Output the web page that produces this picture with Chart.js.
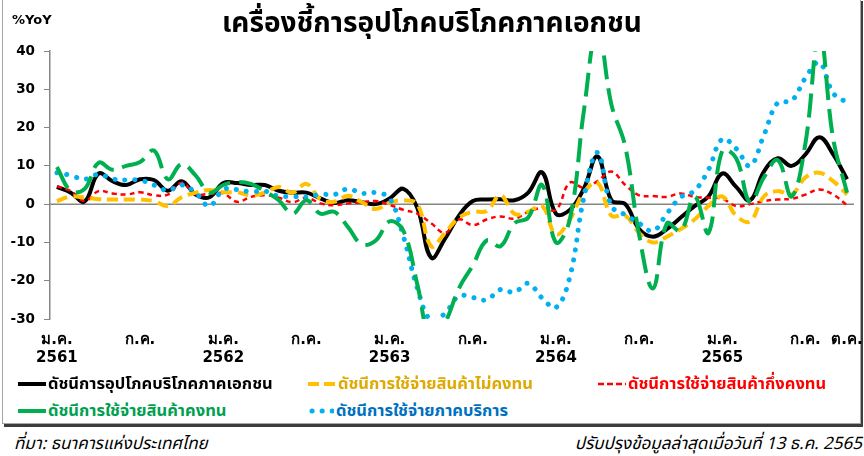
<!DOCTYPE html>
<html lang="th">
<head>
<meta charset="utf-8">
<script src="https://cdn.jsdelivr.net/npm/chart.js@4.4.1/dist/chart.umd.min.js"></script>
<style>
  body { margin: 0; width: 864px; height: 456px; background: #fff; position: relative; overflow: hidden;
         font-family: Tahoma, "Noto Sans Thai", "DejaVu Sans", sans-serif; }
  #frame { position: absolute; left: 2px; top: -2px; width: 857px; height: 424px; border: 1px solid #a6a6a6;
           box-shadow: 2px 3px 0 #3c3c3c; }
  #chartBox { position: absolute; left: 0; top: 0; width: 864px; height: 380px; }
  #title { position: absolute; left: 0; width: 864px; top: 2px; text-align: center; font-weight: bold; font-size: 28px; }
  #unit { position: absolute; left: 12px; top: 12px; font-weight: bold; font-size: 13px; font-family: "DejaVu Sans", sans-serif; }
  .leg { position: absolute; font-weight: bold; font-size: 16.5px; white-space: nowrap; display: flex; align-items: center; }
  .leg svg { margin-right: 2px; }
  .foot { position: absolute; top: 431px; font-style: italic; font-size: 17px; white-space: nowrap; }
</style>
</head>
<body>
<div id="frame"></div>
<div id="chartBox"><canvas id="myChart"></canvas></div>
<div id="title">เครื่องชี้การอุปโภคบริโภคภาคเอกชน</div>
<div id="unit">%YoY</div>
<div id="legend"></div>
<div class="foot" style="left:14px">ที่มา: ธนาคารแห่งประเทศไทย</div>
<div class="foot" style="right:2px">ปรับปรุงข้อมูลล่าสุดเมื่อวันที่ 13 ธ.ค. 2565</div>
<script>
// months / years for the x axis (ม.ค. 2561 - ต.ค. 2565)
const months = ['ม.ค.', 'ก.พ.', 'มี.ค.', 'เม.ย.', 'พ.ค.', 'มิ.ย.', 'ก.ค.', 'ส.ค.', 'ก.ย.', 'ต.ค.', 'พ.ย.', 'ธ.ค.'];
const years = ['2561', '2562', '2563', '2564', '2565'];
const lastMonth = 9; // ต.ค. 2565

// %YoY values
const privateConsumption = [4.5, 3, 0.7, 8, 6, 5, 6.5, 6.3, 3.5, 6, 2.5, 1.8,
    5.5, 5.5, 5, 5, 3.5, 3, 3, 1.5, 0.3, 1, 0.5, 0,
    1.5, 4, -1, -14, -9, -3, 0.8, 1.2, 1.3, 1, 3, 8.3,
    -2.5, -1.5, 4, 12.5, 1, 0, -6.5, -8.5, -6.5, -3.5, -0.5, 2,
    8, 4.5, 1, 8.5, 12, 10, 13, 17.5, 13, 6.5];
const nonDurable = [0.8, 2, 1.7, 1.3, 1.2, 1.2, 1.2, 0.8, -0.5, 1.8, 3, 3.7,
    3.1, 3.1, 2.3, 3, 4.5, 3, 5.3, 1.3, 0.6, 2.2, 0.5, -1.3,
    0.4, 1, 0, -11, -7.5, -3.5, -2, -1.8, 2.3, -2.5, -2, -0.5,
    -7.9, -4, 3, 5.6, -3, -3, -7.5, -10, -8.5, -6.5, -4, -0.5,
    2, -3, -4.5, 2, 3.4, 2.5, 7, 8.2, 6, 2.5];
const semiDurable = [4.7, 3.4, 0.8, 3.4, 2.8, 2.5, 3.1, 2.3, 2.5, 5.6, 2.6, 2.7,
    2.8, 0.6, 1.9, 2.3, 1.7, 0.5, 1.7, 0.2, -0.3, 0.2, 0.5, 0.8,
    -0.2, -1.5, -2.5, -5, -7.5, -4, -5.5, -4, -3.2, -3.8, -2, -1,
    -1.5, 5.6, 4.3, 6, 8.5, 5, 2.3, 2.1, 1.9, 2.8, 1.9, 1.7,
    1.4, -0.5, 0, 0.8, 1.2, 1.4, 2.5, 3.8, 2.5, -0.3];
const durable = [9.7, 3.5, 4, 10.8, 9, 10, 11, 14, 6.5, 10.5, 7.5, 3,
    5, 5.8, 5.3, 3.4, 1, -2.5, 1, -2.5, -2, -6, -10.5, -9.5,
    -4.5, -7, -21, -36, -31, -22, -16, -9.5, -11, -5, -3.5, 5,
    -10, -4, 24, 46, 26, 15, -8, -22, -5, -7, 2, -7.5,
    14, 12, 0.5, 7, 11.5, 2, 16, 45, 17, 3];
const services = [8.2, 7.5, 6.5, 7.8, 6.6, 6.3, 6.3, 5, 3.6, 5, 3, -0.5,
    3.8, 3.8, 3.2, 3.4, 2.1, 2, 1.8, 2.6, 2.5, 4, 2.8, 3,
    1.5, -8.5, -22, -30.5, -28.5, -24, -24.4, -25, -22.3, -23, -20.7, -24.5,
    -27, -19, 1.5, 13.5, -0.5, -2.8, -5, -7, -2.5, 1.8, 3.5, 9,
    17, 14.5, 10, 18, 26.5, 27, 33, 37, 29, 26.5];

// build month categories
const labels = [];
years.forEach((y, yi) => {
    months.forEach((m, mi) => {
        if (yi === years.length - 1 && mi > lastMonth) return;
        labels.push({ m: mi, y: y });
    });
});

const series = [
    { label: 'ดัชนีการอุปโภคบริโภคภาคเอกชน', data: privateConsumption, color: '#000000', text: '#000000', width: 4, dash: [], cap: 'butt', sample: [28, 0] },
    { label: 'ดัชนีการใช้จ่ายสินค้าไม่คงทน', data: nonDurable, color: '#FFC000', text: '#E0A800', width: 4, dash: [11, 6], cap: 'butt', sample: [11, 5] },
    { label: 'ดัชนีการใช้จ่ายสินค้ากึ่งคงทน', data: semiDurable, color: '#FF0000', text: '#FF0000', width: 2.5, dash: [5, 4], cap: 'butt', sample: [6, 3] },
    { label: 'ดัชนีการใช้จ่ายสินค้าคงทน', data: durable, color: '#00B050', text: '#00A050', width: 4, dash: [24, 9], cap: 'butt', sample: [28, 0] },
    { label: 'ดัชนีการใช้จ่ายภาคบริการ', data: services, color: '#00B0F0', text: '#0070C0', width: 5, dash: [0.1, 10], cap: 'round', sample: [0.1, 10] }
];

// draw order: black on top
const order = [3, 4, 1, 2, 0];

const zeroLine = {
    id: 'zeroLine',
    beforeDatasetsDraw(chart) {
        const y = chart.scales.y.getPixelForValue(0);
        const a = chart.chartArea;
        const ctx = chart.ctx;
        ctx.save();
        ctx.strokeStyle = '#868686';
        ctx.lineWidth = 1.5;
        ctx.beginPath();
        ctx.moveTo(a.left, y);
        ctx.lineTo(a.right, y);
        ctx.stroke();
        ctx.restore();
    }
};

const ctx = document.getElementById('myChart').getContext('2d');
const myChart = new Chart(ctx, {
    type: 'line',
    data: {
        labels: labels.map((l, i) => i),
        datasets: order.map(i => {
            const s = series[i];
            return {
                label: s.label,
                data: s.data,
                borderColor: s.color,
                backgroundColor: s.color,
                borderWidth: s.width,
                borderDash: s.dash,
                borderCapStyle: s.cap,
                pointRadius: 0,
                tension: 0.4,
                fill: false
            };
        })
    },
    options: {
        responsive: true,
        maintainAspectRatio: false,
        animation: false,
        layout: { padding: { left: 0, top: 51, right: 10, bottom: 0 } },
        plugins: { legend: { display: false }, tooltip: { enabled: false } },
        scales: {
            x: {
                offset: true,
                grid: { display: false, drawTicks: false },
                border: { display: false },
                afterFit: s => { s.height = 61; s.paddingLeft = 0; s.paddingRight = 0; },
                ticks: {
                    autoSkip: false,
                    maxRotation: 0,
                    padding: 12,
                    color: '#000',
                    font: { family: 'Tahoma, "DejaVu Sans", sans-serif', size: 15, weight: 'bold' },
                    callback: (v, i) => {
                        const l = labels[i];
                        if (l.m === 0) return [months[0], l.y];
                        if (l.m === 6) return months[6];
                        if (i === labels.length - 1) return months[l.m];
                        return '';
                    }
                }
            },
            y: {
                min: -30,
                max: 40,
                afterFit: s => { s.width = 50; },
                grid: { drawOnChartArea: false, drawTicks: true, tickLength: 6, color: '#868686' },
                border: { display: true, color: '#868686', width: 1.5 },
                ticks: {
                    stepSize: 10,
                    padding: 9,
                    color: '#000',
                    font: { family: '"DejaVu Sans", sans-serif', size: 13.5, weight: 'bold' }
                }
            }
        }
    },
    plugins: [zeroLine]
});

// legend
const legend = document.getElementById('legend');
const slots = [[18, 383], [308, 383], [598, 383], [18, 410], [308, 410]];
series.forEach((s, i) => {
    const div = document.createElement('div');
    div.className = 'leg';
    div.style.left = slots[i][0] + 'px';
    div.style.top = (slots[i][1] - 12) + 'px';
    div.style.color = s.text;
    const dash = s.sample[1] ? `stroke-dasharray="${s.sample[0]} ${s.sample[1]}"` : '';
    const w = i === 4 ? 26 : 28;
    div.innerHTML = `<svg width="${w}" height="20"><line x1="${s.cap === 'round' ? 4 : 0}" y1="10" x2="${w}" y2="10" stroke="${s.color}" stroke-width="${s.width}" stroke-linecap="${s.cap}" ${dash}/></svg><span>${s.label}</span>`;
    legend.appendChild(div);
});
</script>
</body>
</html>
